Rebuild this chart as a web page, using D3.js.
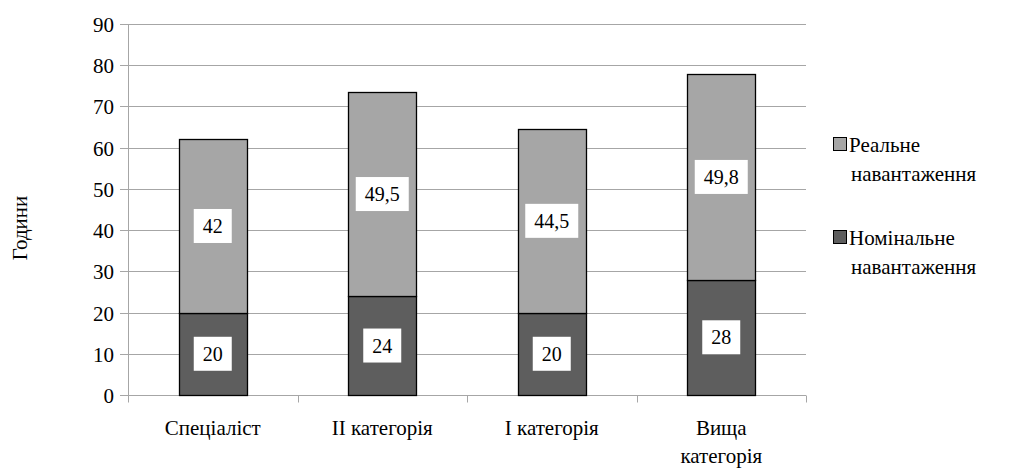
<!DOCTYPE html>
<html>
<head>
<meta charset="utf-8">
<script src="https://cdn.jsdelivr.net/npm/d3@7"></script>
<style>
  html, body { margin: 0; padding: 0; background: #fff; }
</style>
</head>
<body>
<svg id="chart" width="1013" height="470"></svg>
<script>
// Категорії вчителів (рядки підпису по осі X)
const categories = ["Спеціаліст", "II категорія", "I категорія", "Вища категорія"];
const categoryLines = [["Спеціаліст"], ["II категорія"], ["I категорія"], ["Вища", "категорія"]];
// Години навантаження
const nominalLoad = [20, 24, 20, 28];
const realLoad = [42, 49.5, 44.5, 49.8];
const yTicks = [0, 10, 20, 30, 40, 50, 60, 70, 80, 90];
const legendLines = [["Реальне", "навантаження"], ["Номінальне", "навантаження"]];

const colors = { nominal: "#5e5e5e", real: "#a6a6a6" };
const FONT = "Times New Roman";

const svg = d3.select("#chart");
const plot = { left: 128, right: 806, top: 24, bottom: 395 };

const x = d3.scaleBand().domain(categories).range([plot.left, plot.right]).padding(0);
const y = d3.scaleLinear().domain([0, 90]).range([plot.bottom, plot.top]);
const barW = x.bandwidth() * 0.4;
const ry = v => Math.round(y(v)) + 0.5;

// Горизонтальна сітка
svg.append("g").selectAll("line").data(yTicks.filter(d => d > 0)).join("line")
  .attr("x1", plot.left).attr("x2", plot.right)
  .attr("y1", ry).attr("y2", ry)
  .attr("stroke", "#a6a6a6").attr("stroke-width", 1);

// Вісь Y: лінія, засічки, підписи
const ax = svg.append("g");
ax.append("line").attr("x1", plot.left + 0.5).attr("x2", plot.left + 0.5)
  .attr("y1", plot.top).attr("y2", plot.bottom).attr("stroke", "#a6a6a6");
ax.selectAll("line.yt").data(yTicks).join("line").attr("class", "yt")
  .attr("x1", plot.left - 8).attr("x2", plot.left).attr("y1", ry).attr("y2", ry)
  .attr("stroke", "#a6a6a6");
ax.selectAll("text").data(yTicks).join("text")
  .attr("x", plot.left - 14).attr("y", ry).attr("dy", "0.34em")
  .attr("text-anchor", "end").attr("font-size", 21)
  .text(d => d);

// Вісь X
const xAxisG = svg.append("g");
xAxisG.append("line").attr("x1", plot.left).attr("x2", plot.right)
  .attr("y1", ry(0)).attr("y2", ry(0)).attr("stroke", "#a6a6a6");
const boundaries = d3.range(categories.length + 1).map(i => plot.left + i * x.step());
xAxisG.selectAll("line.tk").data(boundaries).join("line").attr("class", "tk")
  .attr("x1", d => Math.round(d) + 0.5).attr("x2", d => Math.round(d) + 0.5)
  .attr("y1", ry(0)).attr("y2", ry(0) + 7).attr("stroke", "#a6a6a6");

const xl = svg.append("g").selectAll("text").data(categories).join("text")
  .attr("x", d => x(d) + x.bandwidth() / 2)
  .attr("y", 435)
  .attr("text-anchor", "middle")
  .attr("font-size", 21);
xl.each(function (d, i) {
  d3.select(this).selectAll("tspan").data(categoryLines[i]).join("tspan")
    .attr("x", x(d) + x.bandwidth() / 2)
    .attr("dy", (t, j) => j === 0 ? 0 : 28)
    .text(t => t);
});

// Стовпчики з накопиченням
const stacked = categories.map((c, i) => [
  { cat: c, y0: 0, y1: nominalLoad[i], v: nominalLoad[i], color: colors.nominal },
  { cat: c, y0: nominalLoad[i], y1: nominalLoad[i] + realLoad[i], v: realLoad[i], color: colors.real }
]).flat();

svg.append("g").selectAll("rect").data(stacked).join("rect")
  .attr("x", d => Math.round(x(d.cat) + (x.bandwidth() - barW) / 2) + 0.5)
  .attr("width", Math.round(barW))
  .attr("y", d => ry(d.y1))
  .attr("height", d => ry(d.y0) - ry(d.y1))
  .attr("fill", d => d.color)
  .attr("stroke", "#000").attr("stroke-width", 1.3);

// Підписи значень у білих прямокутниках
const fmt = v => String(v).replace(".", ",");
const boxW = s => s.replace(/[^0-9]/g, "").length * 10 + (s.includes(",") ? 5 : 0) + 18;
const lab = svg.append("g").selectAll("g").data(stacked).join("g")
  .attr("transform", d => `translate(${x(d.cat) + x.bandwidth() / 2},${y((d.y0 + d.y1) / 2)})`);
lab.append("rect")
  .attr("x", d => -boxW(fmt(d.v)) / 2).attr("width", d => boxW(fmt(d.v)))
  .attr("y", -17).attr("height", 34)
  .attr("fill", "#fff");
lab.append("text")
  .attr("text-anchor", "middle").attr("dy", "0.35em")
  .attr("font-size", 20)
  .text(d => fmt(d.v));

// Назва осі Y
svg.append("text")
  .attr("transform", "translate(27,228) rotate(-90)")
  .attr("text-anchor", "middle")
  .attr("font-size", 21)
  .text("Години");

// Легенда
const legend = svg.append("g");
const legendColors = [colors.real, colors.nominal];
const legendY = [152, 245];
legendLines.forEach((lines, i) => {
  legend.append("rect")
    .attr("x", 833.5).attr("y", legendY[i] - 14.5)
    .attr("width", 13).attr("height", 13)
    .attr("fill", legendColors[i]).attr("stroke", "#000").attr("stroke-width", 1);
  const t = legend.append("text").attr("font-size", 21).attr("y", legendY[i]);
  t.selectAll("tspan").data(lines).join("tspan")
    .attr("x", (d, j) => j === 0 ? 849 : 851)
    .attr("dy", (d, j) => j === 0 ? 0 : 29)
    .text(d => d);
});

// Шрифт для всіх підписів
function applyFont() {
  svg.selectAll("text, tspan")
    .attr("font-family", FONT)
    .attr("fill", "#000")
    .each(function () { this.style.setProperty("font-family", "'Times New Roman', 'Liberation Serif', serif", "important"); });
}
applyFont();
setTimeout(applyFont, 0);
</script>
</body>
</html>
